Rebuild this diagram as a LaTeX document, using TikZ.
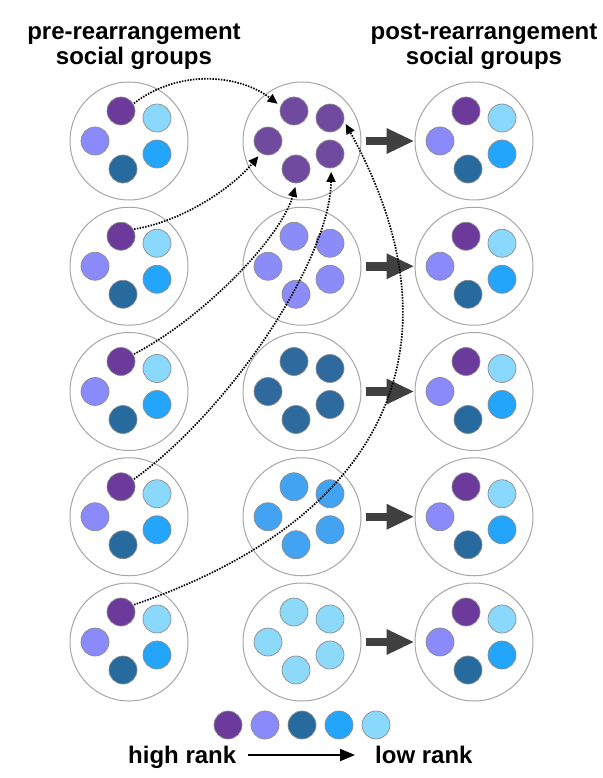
\documentclass[tikz,border=0pt]{standalone}
\usepackage{fontspec}
\setmainfont{Liberation Sans}
\usetikzlibrary{arrows.meta}
\definecolor{pur}{HTML}{6B3A9B}
\definecolor{per}{HTML}{8A8AFA}
\definecolor{dkb}{HTML}{276A9E}
\definecolor{blu}{HTML}{22A5FA}
\definecolor{lig}{HTML}{8AD9FC}
\definecolor{mpur}{HTML}{6F4A9E}
\definecolor{mper}{HTML}{8C8CF8}
\definecolor{mdkb}{HTML}{2F6A9E}
\definecolor{mblu}{HTML}{42A3F2}
\definecolor{mlig}{HTML}{8CD9F9}
\definecolor{fatc}{HTML}{404040}
\begin{document}
\begin{tikzpicture}[x=1pt,y=-1pt,
  group/.style={circle,draw=black!35,line width=1pt,fill=white,minimum size=118pt,inner sep=0pt},
  dot/.style={circle,draw=black!45,line width=0.7pt,minimum size=28pt,inner sep=0pt,outer sep=0pt},
  move/.style={line width=1.7pt,dash pattern=on 1.5pt off 1.3pt,-{Triangle[length=10pt,width=9pt]},shorten <=1pt,shorten >=4pt},
  fat/.style={draw=fatc,line width=8.5pt,-{Triangle[length=27pt,width=26pt,line width=0pt]},shorten <=4pt,shorten >=1pt},
  legarrow/.style={line width=2pt,-{Triangle[length=15pt,width=12pt]}},
  lbl/.style={font=\bfseries\fontsize{24}{25}\selectfont,inner sep=0pt}]
\useasboundingbox (0,0) rectangle (602,778);
% titles
\node[lbl,align=center] (t1) at (134,47) {pre-rearrangement\\social groups};
\node[lbl,align=center] (t2) at (484,47) {post-rearrangement\\social groups};
% group circles
\foreach \c/\x in {L/129,M/302,R/474}{
  \foreach \r in {1,...,5}{
    \pgfmathsetmacro\yy{141+125.25*(\r-1)}
    \node[group] (\c\r) at (\x,\yy) {};
  }
}
% mixed groups (left and right)
\foreach \c in {L,R}{
  \foreach \r in {1,...,5}{
    \foreach \k/\dx/\dy/\col in {a/-8/-30/pur,b/28/-23/lig,c/-34/0/per,d/28/13/blu,e/-6/28/dkb}{
      \node[dot,fill=\col] (\c\r\k) at ([shift={(\dx,\dy)}]\c\r.center) {};
    }
  }
}
% sorted groups (middle)
\foreach \r/\col in {1/mpur,2/mper,3/mdkb,4/mblu,5/mlig}{
  \foreach \k/\dx/\dy in {a/-8/-30,b/28/-23,c/-34/0,d/28/13,e/-6/28}{
    \node[dot,fill=\col] (M\r\k) at ([shift={(\dx,\dy)}]M\r.center) {};
  }
}
% fat arrows
\foreach \r in {1,...,5}{
  \draw[fat] (M\r) -- (R\r);
}
% dotted moves
\draw[move] (L1a.30) .. controls (180,68) and (240,75) .. (M1a.160);
\draw[move] (L2a.30) .. controls (180,222) and (230,190) .. (M1c.240);
\draw[move] (L3a.30) .. controls (200,320) and (280,240) .. (M1e.272);
\draw[move] (L4a.30) .. controls (230,410) and (330,260) .. (M1d.275);
\draw[move] (L5a.30) .. controls (387,518) and (467,344) .. (M1b.350);
% legend
\foreach \i/\col in {0/pur,1/per,2/dkb,3/blu,4/lig}{
  \node[dot,fill=\col] (K\i) at (228+37*\i,725) {};
}
\node[lbl,anchor=base west] (hr) at (128,763) {high rank};
\node[lbl,anchor=base west] (lr) at (375,763) {low rank};
\coordinate (la) at (248,755);
\coordinate (lb) at (355,755);
\draw[legarrow] (la) -- (lb);
\end{tikzpicture}
\end{document}
